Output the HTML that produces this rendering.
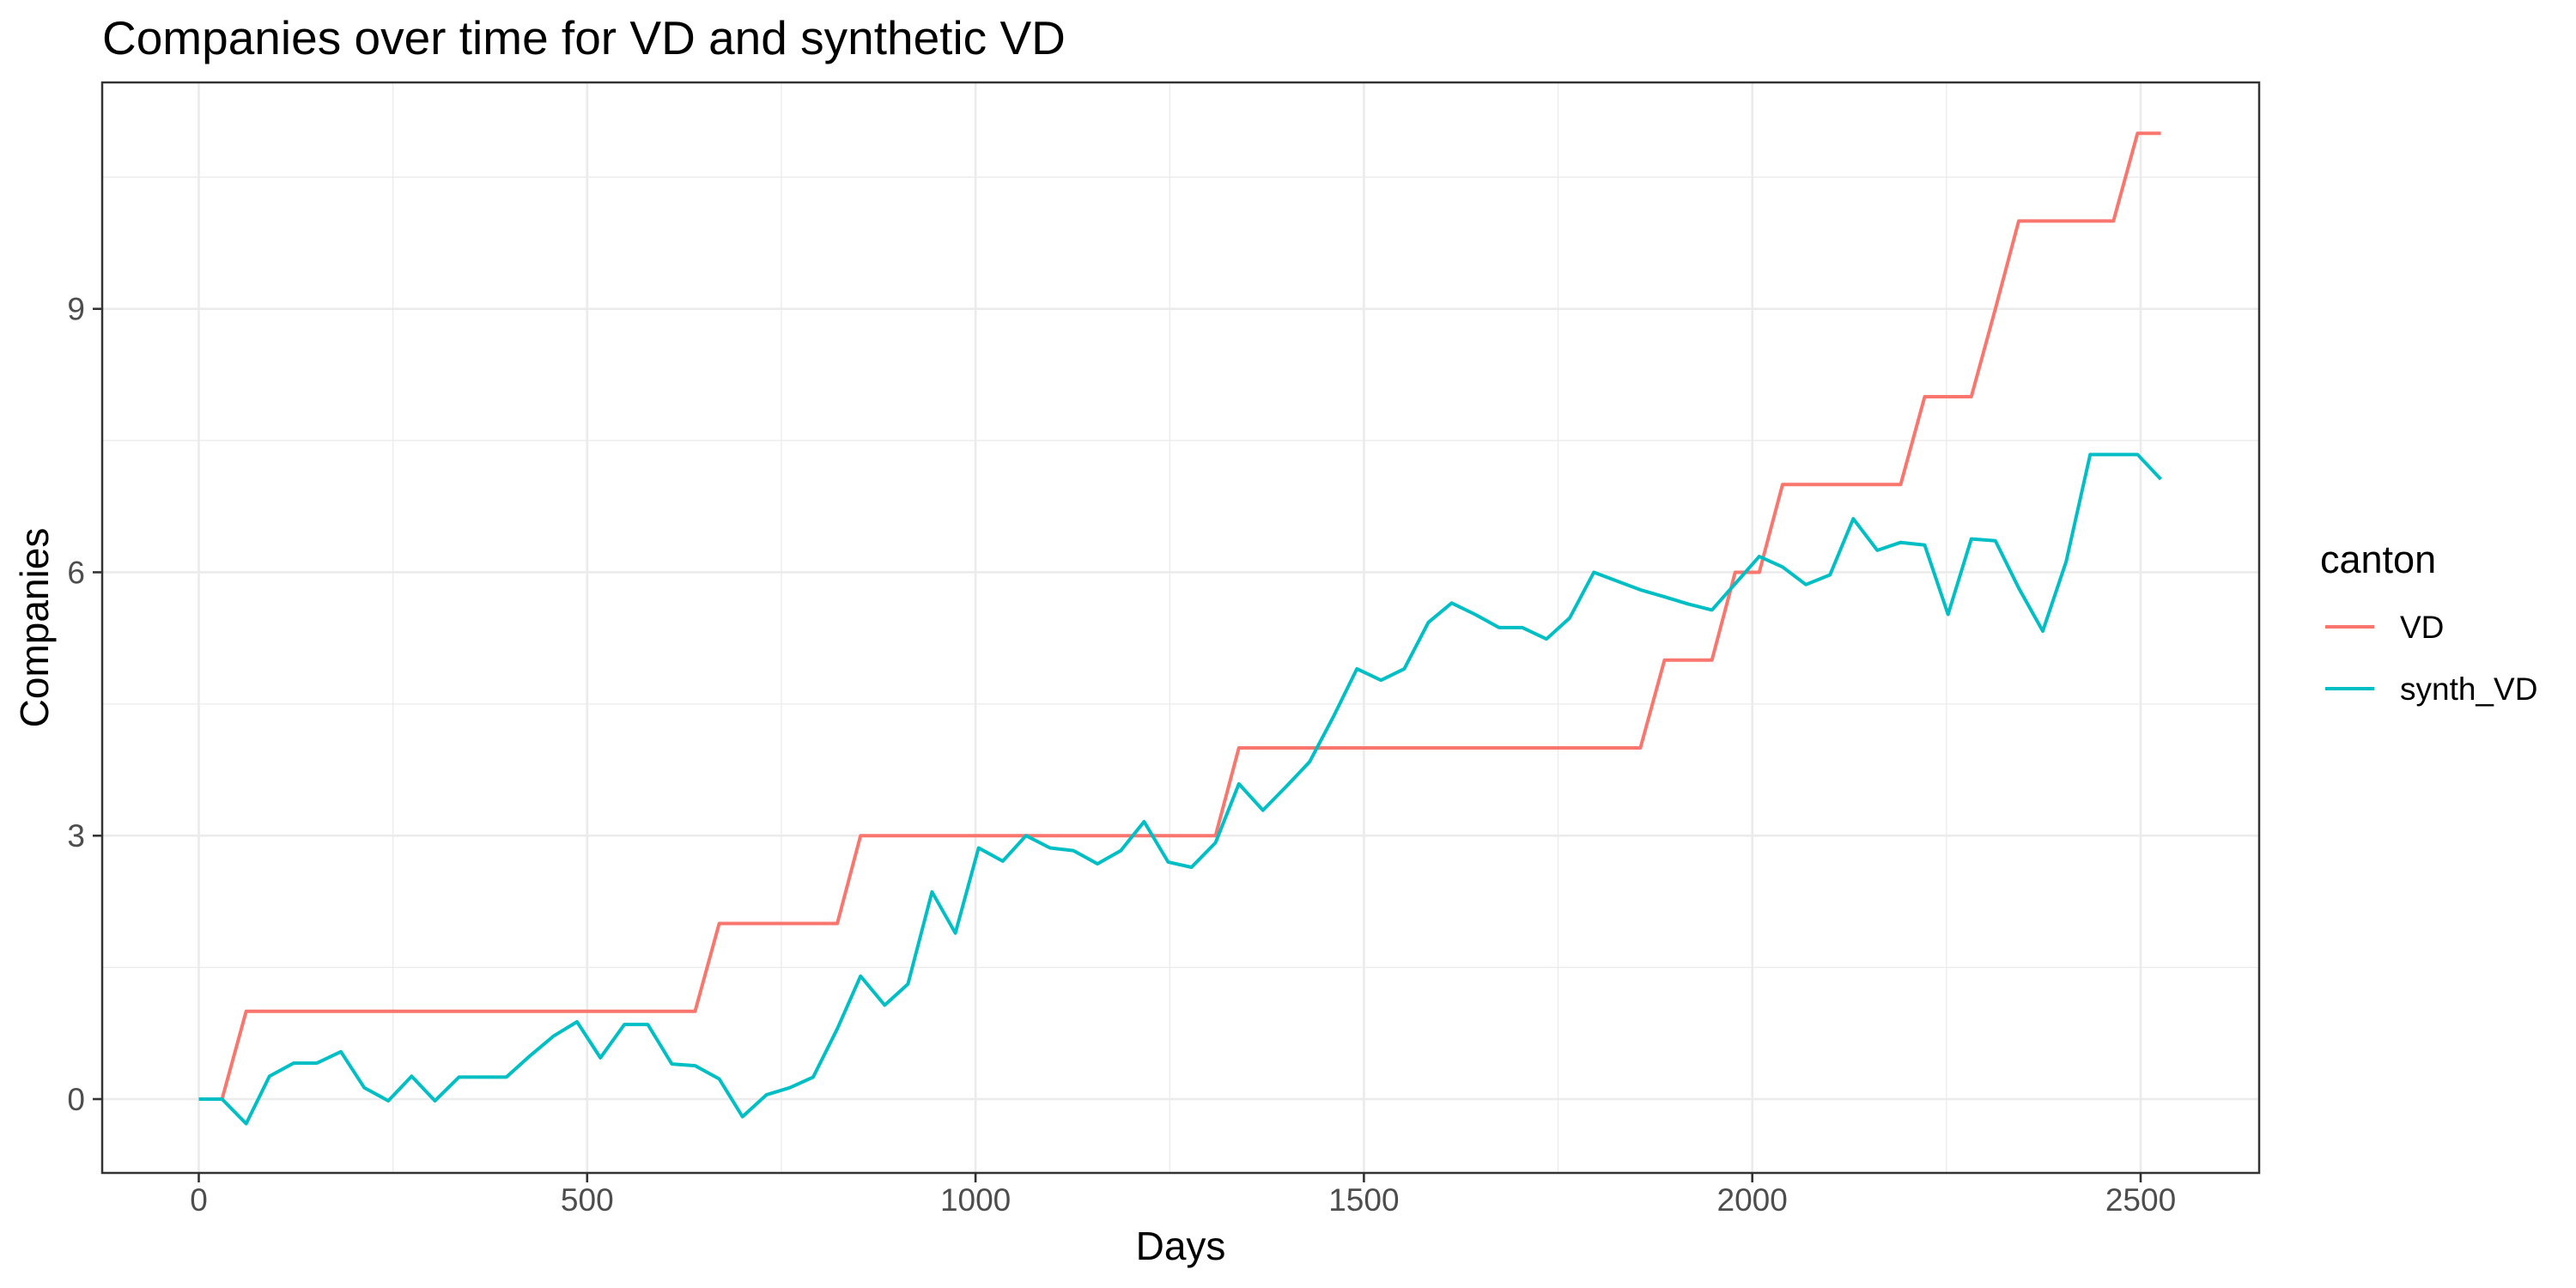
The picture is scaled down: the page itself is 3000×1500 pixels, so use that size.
<!DOCTYPE html>
<html><head><meta charset="utf-8">
<style>
html,body{margin:0;padding:0;background:#fff;}
svg{display:block;font-family:"Liberation Sans",Arial,sans-serif;}
</style></head>
<body>
<svg id="chart" width="3000" height="1500" viewBox="0 0 3000 1500" xmlns="http://www.w3.org/2000/svg">
<rect x="0" y="0" width="3000" height="1500" fill="#fff"/>
<text x="119" y="63" font-size="55" fill="#000">Companies over time for VD and synthetic VD</text>
<g id="grid"></g>
<g id="series"></g>
<rect x="119" y="96" width="2512" height="1270" fill="none" stroke="#333" stroke-width="2.5"/>
<g id="axes"></g>
<text x="1375" y="1467" font-size="46" text-anchor="middle" fill="#000">Days</text>
<text x="0" y="0" font-size="46" text-anchor="middle" fill="#000" transform="translate(56,731) rotate(-90)">Companies</text>
<g>
<text x="2702" y="667" font-size="45" fill="#000">canton</text>
<g>
<line x1="2708" y1="730" x2="2765" y2="730" stroke="#F8766D" stroke-width="4"/>
<text x="2795" y="743" font-size="37" fill="#000">VD</text>
</g>
<g>
<line x1="2708" y1="802" x2="2765" y2="802" stroke="#00BFC4" stroke-width="4"/>
<text x="2795" y="815" font-size="37" fill="#000">synth_VD</text>
</g>
</g>
</svg>
<script>
const days = [0,30,61,91,122,152,183,213,244,274,304,335,365,396,426,457,487,517,548,578,609,639,670,700,731,761,791,822,852,883,913,944,974,1004,1035,1065,1096,1126,1157,1187,1217,1248,1278,1309,1339,1370,1400,1430,1461,1491,1522,1552,1583,1613,1643,1674,1704,1735,1765,1796,1826,1856,1887,1917,1948,1978,2009,2039,2069,2100,2130,2161,2191,2222,2252,2282,2313,2343,2374,2404,2435,2465,2496,2526];
const vdValues = [0,0,1,1,1,1,1,1,1,1,1,1,1,1,1,1,1,1,1,1,1,1,2,2,2,2,2,2,3,3,3,3,3,3,3,3,3,3,3,3,3,3,3,3,4,4,4,4,4,4,4,4,4,4,4,4,4,4,4,4,4,4,5,5,5,6,6,7,7,7,7,7,7,8,8,8,9,10,10,10,10,10,11,11];
const synthValues = [0,0,-0.28,0.26,0.41,0.41,0.54,0.13,-0.02,0.26,-0.02,0.25,0.25,0.25,0.49,0.72,0.88,0.47,0.85,0.85,0.40,0.38,0.23,-0.2,0.05,0.13,0.25,0.8,1.4,1.07,1.31,2.36,1.89,2.86,2.71,3.0,2.86,2.83,2.68,2.83,3.16,2.7,2.64,2.92,3.59,3.29,3.56,3.84,4.36,4.9,4.77,4.9,5.43,5.65,5.52,5.37,5.37,5.24,5.48,6.0,5.9,5.8,5.72,5.64,5.57,5.87,6.18,6.06,5.86,5.97,6.61,6.25,6.34,6.31,5.52,6.38,6.36,5.82,5.33,6.12,7.34,7.34,7.34,7.06];
const xTicks = [0,500,1000,1500,2000,2500];
const xMinor = [250,750,1250,1750,2250];
const yTicks = [0,3,6,9];
const yMinor = [1.5,4.5,7.5,10.5];

const NS = "http://www.w3.org/2000/svg";
const PX0 = 119, PX1 = 2631, PY0 = 96, PY1 = 1366;
function xScale(d){ return 231.5 + d * (2493 - 231.5) / 2500; }
function yScale(v){ return 1280 - v * (1280 - 359.7) / 9; }
function mk(tag, attrs, parent){
  const el = document.createElementNS(NS, tag);
  for (const k in attrs) el.setAttribute(k, attrs[k]);
  parent.appendChild(el);
  return el;
}
const grid = document.getElementById('grid');
const axes = document.getElementById('axes');
const series = document.getElementById('series');
mk('rect',{x:PX0,y:PY0,width:PX1-PX0,height:PY1-PY0,fill:'#fff'},grid);
xMinor.forEach(d=>{
  const l = mk('line',{x1:xScale(d),x2:xScale(d),y1:PY0,y2:PY1,stroke:'#EBEBEB','stroke-width':1.3},grid);
  
  
});
yMinor.forEach(v=>{
  const l = mk('line',{x1:PX0,x2:PX1,y1:yScale(v),y2:yScale(v),stroke:'#EBEBEB','stroke-width':1.3},grid);
  
  
});
xTicks.forEach(d=>{
  const l = mk('line',{x1:xScale(d),x2:xScale(d),y1:PY0,y2:PY1,stroke:'#EBEBEB','stroke-width':2.6},grid);
  
  
  const t = mk('line',{x1:xScale(d),x2:xScale(d),y1:PY1,y2:PY1+11,stroke:'#333','stroke-width':2.6},axes);
  
  
  const lb = mk('text',{x:xScale(d),y:1410,'font-size':37,'text-anchor':'middle',fill:'#4D4D4D'},axes);
  lb.textContent = d;
  
  
});
yTicks.forEach(v=>{
  const l = mk('line',{x1:PX0,x2:PX1,y1:yScale(v),y2:yScale(v),stroke:'#EBEBEB','stroke-width':2.6},grid);
  
  
  const t = mk('line',{x1:PX0-11,x2:PX0,y1:yScale(v),y2:yScale(v),stroke:'#333','stroke-width':2.6},axes);
  
  
  const lb = mk('text',{x:PX0-20,y:yScale(v)+13,'font-size':37,'text-anchor':'end',fill:'#4D4D4D'},axes);
  lb.textContent = v;
  
  
});
function drawLine(vals, color, name){
  const pts = vals.map((v,i)=>xScale(days[i]).toFixed(1)+','+yScale(v).toFixed(1)).join(' ');
  const p = mk('polyline',{points:pts,fill:'none',stroke:color,'stroke-width':4,'stroke-linejoin':'round'},series);
  
  
}
drawLine(vdValues,'#F8766D','vd-line');
drawLine(synthValues,'#00BFC4','synth-vd-line');
</script>
</body></html>
